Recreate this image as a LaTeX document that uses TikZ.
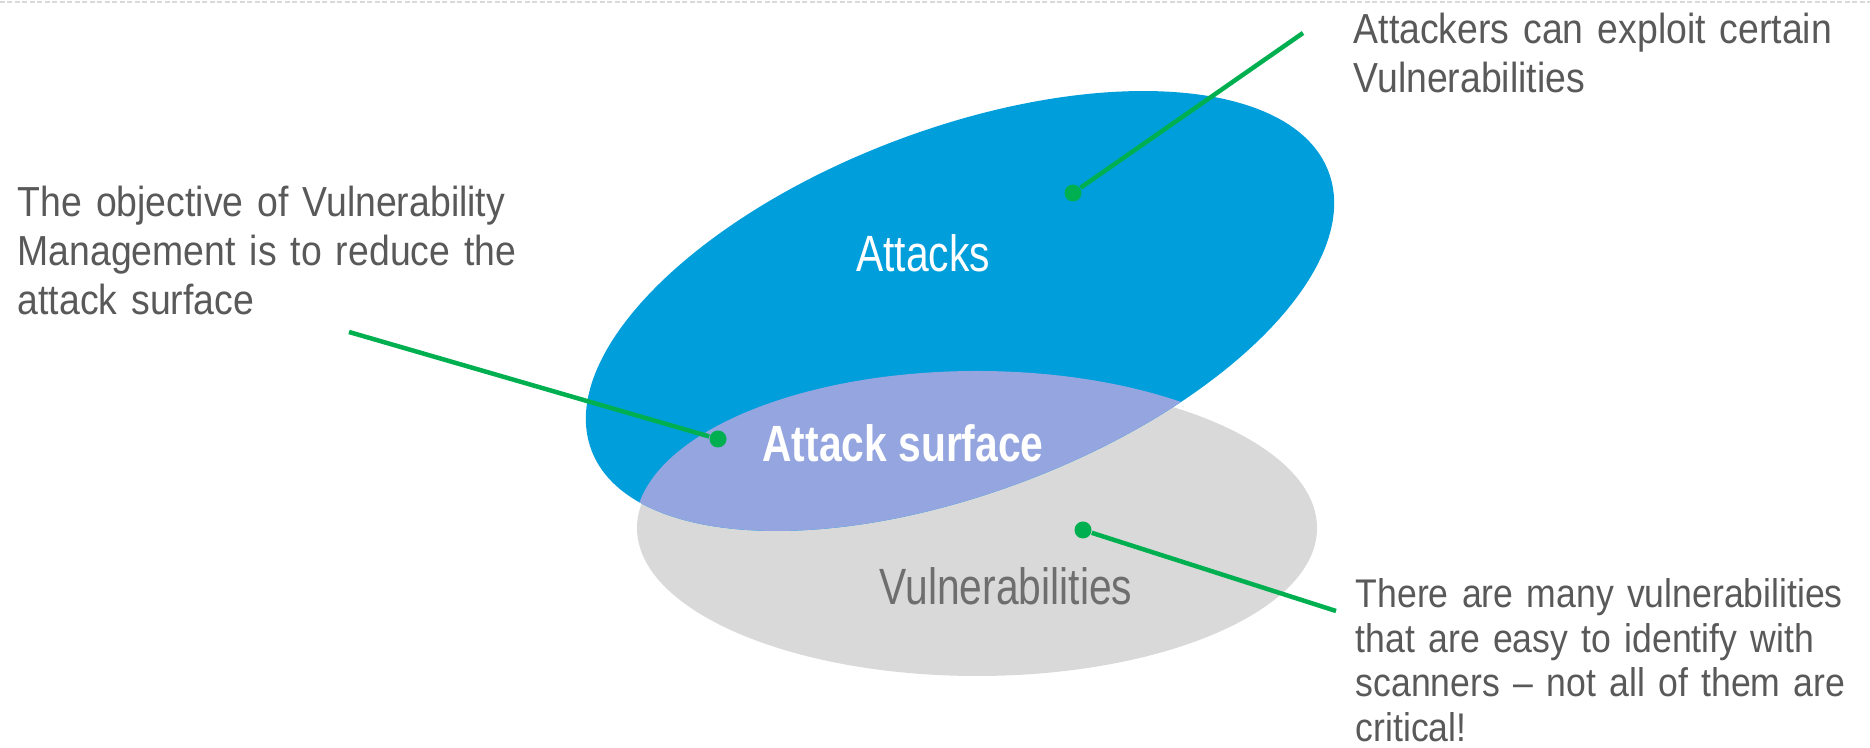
\documentclass[tikz,border=0pt]{standalone}
\usepackage{fontspec}
\setmainfont{Liberation Sans}[FakeStretch=0.89]
\newfontfamily\narrowsans{Liberation Sans}[FakeStretch=0.8]
\definecolor{atkblue}{RGB}{0,158,219}
\definecolor{surfpurple}{RGB}{148,165,224}
\definecolor{vulgray}{RGB}{217,217,217}
\definecolor{leadgreen}{RGB}{0,176,80}
\definecolor{notegray}{RGB}{89,89,89}
\definecolor{vultext}{RGB}{110,110,110}
\begin{document}
\begin{tikzpicture}[>=stealth,
point/.style = {circle, fill = leadgreen, inner sep = 0pt, minimum size = 1.7mm},
lead/.style = {draw = leadgreen, line width = 0.45mm},
note/.style = {anchor = base west, inner sep = 0pt, text width = 5.4cm, align = left, text = notegray, font = \fontsize{4.2mm}{4.9mm}\selectfont},
inlabel/.style = {anchor = base, inner sep = 0pt, font = \narrowsans\fontsize{5.1mm}{6mm}\selectfont},
inbold/.style = {inlabel, font = \narrowsans\bfseries\fontsize{5.1mm}{6mm}\selectfont},]
\useasboundingbox (0,0) rectangle (18.70,7.48);
\draw[vulgray, line width = 0.2mm, dash pattern = on 0.5mm off 0.25mm] (0,7.46)--(18.70,7.46);

% the three sets
\fill[vulgray] (9.77,2.20) ellipse [x radius = 3.40, y radius = 1.48];
\fill[atkblue, rotate around = {20.7:(9.60,4.37)}] (9.60,4.37) ellipse [x radius = 3.94, y radius = 1.82];
\begin{scope}
\clip[rotate around = {20.7:(9.60,4.37)}] (9.60,4.37) ellipse [x radius = 3.94, y radius = 1.82];
\fill[surfpurple] (9.77,2.20) ellipse [x radius = 3.42, y radius = 1.57];
\end{scope}

\node (atk) at (9.23,4.76)[inlabel, text = white] {Attacks};
\node (surf) at (9.03,2.86)[inbold, text = white] {Attack surface};
\node (vul) at (10.06,1.43)[inlabel, text = vultext] {Vulnerabilities};

\node (dA) at (10.73,5.55)[point] {};
\node (dS) at (7.18,3.09)[point] {};
\node (dV) at (10.83,2.18)[point] {};
\coordinate (eA) at (13.03,7.15);
\coordinate (eS) at (3.49,4.16);
\coordinate (eV) at (13.36,1.37);

\draw[lead] (dA)--(eA);
\draw[lead] (dS)--(eS);
\draw[lead] (dV)--(eV);

\node (exploit) at (13.53,7.04)[note] {Attackers can exploit certain\\ Vulnerabilities};
\node (goal) at (0.17,5.31)[note] {The objective of Vulnerability\\ Management is to reduce the\\ attack surface};
\node (scan) at (13.55,1.40)[note, font = \fontsize{4.0mm}{4.45mm}\selectfont] {There are many vulnerabilities\\ that are easy to identify with\\ scanners -- not all of them are\\ critical!};
\end{tikzpicture}
\end{document}
